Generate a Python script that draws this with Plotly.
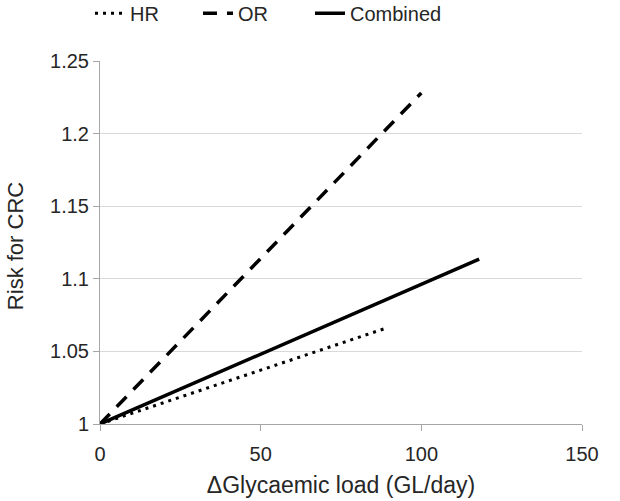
import plotly.graph_objects as go

series_names = ["HR", "OR", "Combined"]
hr_x = [0, 89]
hr_y = [1.0, 1.066]
or_x = [0, 100]
or_y = [1.0, 1.228]
comb_x = [0, 118]
comb_y = [1.0, 1.1135]

x_ticks = [0, 50, 100, 150]
y_ticks = [1, 1.05, 1.1, 1.15, 1.2, 1.25]
y_tick_labels = ["1", "1.05", "1.1", "1.15", "1.2", "1.25"]

font_family = "Liberation Sans, Arial, sans-serif"
text_color = "#262626"

fig = go.Figure()
fig.add_trace(go.Scatter(x=hr_x, y=hr_y, mode="lines", name=series_names[0],
                         legend="legend",
                         line=dict(color="black", width=3, dash="3px,5px")))
fig.add_trace(go.Scatter(x=or_x, y=or_y, mode="lines", name=series_names[1],
                         legend="legend2",
                         line=dict(color="black", width=3.5, dash="14px,10px")))
fig.add_trace(go.Scatter(x=comb_x, y=comb_y, mode="lines", name=series_names[2],
                         legend="legend3",
                         line=dict(color="black", width=3.5)))

def leg(xpx):
    return dict(orientation="h", x=xpx / 620, xanchor="left", xref="container",
                y=1.185, yref="paper", yanchor="top",
                font=dict(size=20, color=text_color), bgcolor="rgba(0,0,0,0)")

fig.update_layout(
    width=620, height=501,
    margin=dict(l=100, r=38, t=61, b=77, autoexpand=False),
    paper_bgcolor="white", plot_bgcolor="white",
    font=dict(family=font_family, size=20, color=text_color),
    showlegend=True,
    legend=leg(90), legend2=leg(198), legend3=leg(310),
    xaxis=dict(range=[0, 150], tickvals=x_ticks, showgrid=False, zeroline=False,
               showline=True, linecolor="#a6a6a6", linewidth=1,
               ticks="outside", ticklen=6, tickcolor="#a6a6a6",
               ticklabelstandoff=6,
               title=dict(text="\u0394Glycaemic load (GL/day)", font=dict(size=23), standoff=12),
               tickfont=dict(size=20), automargin=False),
    yaxis=dict(range=[1, 1.25], tickvals=y_ticks, ticktext=y_tick_labels,
               showgrid=True, gridcolor="#d9d9d9", gridwidth=1, zeroline=False,
               showline=True, linecolor="#a6a6a6", linewidth=1,
               ticks="outside", ticklen=6, tickcolor="#a6a6a6",
               tickfont=dict(size=20), automargin=False),
    annotations=[dict(text="Risk for CRC", textangle=-90, showarrow=False,
                      xref="paper", yref="paper", x=(15 - 100) / 482, y=0.49,
                      xanchor="center", yanchor="middle",
                      font=dict(size=22, color=text_color))],
)

fig.write_html("out.html")
